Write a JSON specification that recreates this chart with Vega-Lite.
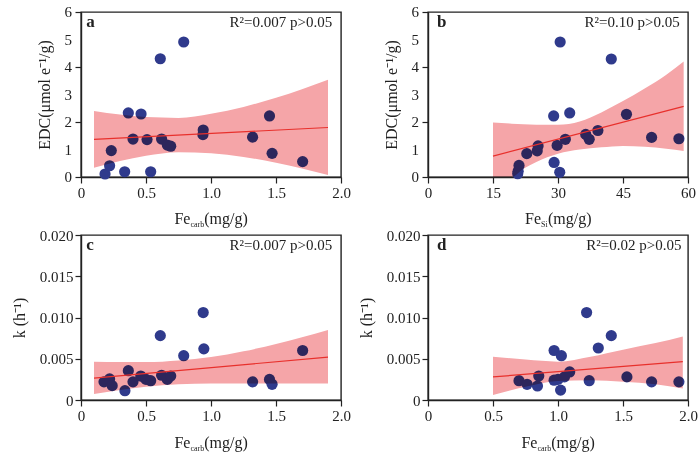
{
  "$schema": "https://vega.github.io/schema/vega-lite/v6.json",
  "background": "white",
  "padding": {"left": 10, "top": 4, "right": 5, "bottom": 2},
  "config": {
    "font": "Liberation Serif",
    "view": {"stroke": "#222222", "strokeWidth": 1.4},
    "axis": {
      "grid": false,
      "domainColor": "#222222", "domainWidth": 1.4,
      "tickColor": "#222222", "tickWidth": 1.2,
      "labelFont": "Liberation Serif", "labelFontSize": 15, "labelColor": "#222222",
      "labelFlush": false, "labelOverlap": false, "labelPadding": 2,
      "titleFont": "Liberation Serif", "titleFontSize": 16, "titleFontWeight": "normal",
      "titleColor": "#222222", "titlePadding": 12
    },
    "text": {"font": "Liberation Serif", "fontSize": 16, "color": "#222222"}
  },
  "datasets": {
    "ticksEDC": [{"v": 0}, {"v": 1}, {"v": 2}, {"v": 3}, {"v": 4}, {"v": 5}, {"v": 6}],
    "ptsA": [
      {"x": 0.185, "y": 0.11}, {"x": 0.22, "y": 0.41}, {"x": 0.233, "y": 0.96},
      {"x": 0.336, "y": 0.19}, {"x": 0.364, "y": 2.33}, {"x": 0.40, "y": 1.38},
      {"x": 0.462, "y": 2.29}, {"x": 0.508, "y": 1.36}, {"x": 0.536, "y": 0.19},
      {"x": 0.61, "y": 4.30}, {"x": 0.62, "y": 1.38}, {"x": 0.664, "y": 1.16},
      {"x": 0.69, "y": 1.12}, {"x": 0.79, "y": 4.91}, {"x": 0.938, "y": 1.54},
      {"x": 0.94, "y": 1.71}, {"x": 1.32, "y": 1.45}, {"x": 1.45, "y": 2.22},
      {"x": 1.47, "y": 0.86}, {"x": 1.705, "y": 0.56}
    ],
    "ptsB": [
      {"x": 20.7, "y": 0.12}, {"x": 20.8, "y": 0.21}, {"x": 21.0, "y": 0.42},
      {"x": 22.8, "y": 0.85}, {"x": 25.2, "y": 0.95}, {"x": 25.4, "y": 1.13},
      {"x": 29.0, "y": 2.22}, {"x": 29.1, "y": 0.53}, {"x": 29.8, "y": 1.15},
      {"x": 30.5, "y": 4.91}, {"x": 30.4, "y": 0.17}, {"x": 31.7, "y": 1.37},
      {"x": 32.7, "y": 2.33}, {"x": 36.4, "y": 1.55}, {"x": 37.2, "y": 1.37},
      {"x": 39.2, "y": 1.69}, {"x": 42.3, "y": 4.29}, {"x": 45.8, "y": 2.28},
      {"x": 51.6, "y": 1.44}, {"x": 57.9, "y": 1.39}
    ],
    "ptsC": [
      {"x": 0.177, "y": 0.0022}, {"x": 0.22, "y": 0.00255}, {"x": 0.24, "y": 0.00174},
      {"x": 0.338, "y": 0.00113}, {"x": 0.364, "y": 0.00355}, {"x": 0.40, "y": 0.0022},
      {"x": 0.46, "y": 0.0029}, {"x": 0.50, "y": 0.0025}, {"x": 0.536, "y": 0.00234},
      {"x": 0.61, "y": 0.0078}, {"x": 0.62, "y": 0.0030}, {"x": 0.664, "y": 0.0025},
      {"x": 0.69, "y": 0.0029}, {"x": 0.79, "y": 0.00537}, {"x": 0.94, "y": 0.0106},
      {"x": 0.945, "y": 0.0062}, {"x": 1.32, "y": 0.0022}, {"x": 1.45, "y": 0.0025},
      {"x": 1.47, "y": 0.0019}, {"x": 1.705, "y": 0.0060}
    ],
    "ptsD": [
      {"x": 0.70, "y": 0.00234}, {"x": 0.762, "y": 0.0019}, {"x": 0.842, "y": 0.0017},
      {"x": 0.852, "y": 0.0029}, {"x": 0.97, "y": 0.0060}, {"x": 1.026, "y": 0.00537},
      {"x": 0.97, "y": 0.0024}, {"x": 1.0, "y": 0.0025}, {"x": 1.02, "y": 0.0012},
      {"x": 1.05, "y": 0.0028}, {"x": 1.09, "y": 0.0034}, {"x": 1.22, "y": 0.0106},
      {"x": 1.24, "y": 0.00234}, {"x": 1.31, "y": 0.0063}, {"x": 1.41, "y": 0.0078},
      {"x": 1.53, "y": 0.0028}, {"x": 1.72, "y": 0.0022}, {"x": 1.93, "y": 0.0022}
    ],
    "bandA": [
      {"x": 0.1, "lo": 0.34, "hi": 2.40}, {"x": 0.3, "lo": 0.58, "hi": 2.27},
      {"x": 0.5, "lo": 0.77, "hi": 2.18}, {"x": 0.75, "lo": 0.90, "hi": 2.15},
      {"x": 1.0, "lo": 0.86, "hi": 2.30}, {"x": 1.25, "lo": 0.73, "hi": 2.55},
      {"x": 1.5, "lo": 0.52, "hi": 2.88}, {"x": 1.9, "lo": 0.07, "hi": 3.54}
    ],
    "bandB": [
      {"x": 15, "lo": 0, "hi": 1.98}, {"x": 19.3, "lo": 0, "hi": 1.94},
      {"x": 22, "lo": 0.30, "hi": 1.92}, {"x": 25, "lo": 0.55, "hi": 1.90},
      {"x": 30, "lo": 0.85, "hi": 1.90}, {"x": 35, "lo": 1.00, "hi": 2.02},
      {"x": 40, "lo": 1.08, "hi": 2.35}, {"x": 45, "lo": 1.13, "hi": 2.76},
      {"x": 50, "lo": 1.10, "hi": 3.22}, {"x": 55, "lo": 1.03, "hi": 3.72},
      {"x": 59, "lo": 0.95, "hi": 4.20}
    ],
    "bandC": [
      {"x": 0.1, "lo": 0.00073, "hi": 0.00465}, {"x": 0.3, "lo": 0.0012, "hi": 0.0046},
      {"x": 0.5, "lo": 0.0016, "hi": 0.0046}, {"x": 0.75, "lo": 0.0019, "hi": 0.0048},
      {"x": 1.0, "lo": 0.0020, "hi": 0.0052}, {"x": 1.25, "lo": 0.0020, "hi": 0.0059},
      {"x": 1.5, "lo": 0.0020, "hi": 0.0068}, {"x": 1.9, "lo": 0.0020, "hi": 0.0085}
    ],
    "bandD": [
      {"x": 0.5, "lo": 0.0006, "hi": 0.00525}, {"x": 0.75, "lo": 0.0016, "hi": 0.0049},
      {"x": 1.0, "lo": 0.0023, "hi": 0.00465}, {"x": 1.25, "lo": 0.0024, "hi": 0.00525},
      {"x": 1.5, "lo": 0.0022, "hi": 0.0061}, {"x": 1.75, "lo": 0.0019, "hi": 0.0069},
      {"x": 1.96, "lo": 0.0014, "hi": 0.0077}
    ],
    "fitA": [{"x": 0.1, "y": 1.37}, {"x": 1.9, "y": 1.80}],
    "fitB": [{"x": 15, "y": 0.76}, {"x": 59, "y": 2.57}],
    "fitC": [{"x": 0.1, "y": 0.00265}, {"x": 1.9, "y": 0.0052}],
    "fitD": [{"x": 0.5, "y": 0.0028}, {"x": 1.96, "y": 0.00465}]
  },
  "concat": [
    {
      "width": 260, "height": 165,
      "layer": [
        {
          "data": {"name": "ptsA"},
          "mark": {"type": "circle", "size": 125, "opacity": 1, "color": "#2f3a8c"},
          "encoding": {
            "x": {"field": "x", "type": "quantitative",
              "scale": {"domain": [0, 2], "nice": false, "zero": false},
              "axis": {"title": null, "labelOverlap": false, "values": [0, 0.25, 0.5, 0.75, 1, 1.25, 1.5, 1.75, 2],
                "labelExpr": "datum.value == 0 ? '0' : (round(datum.value*2) == datum.value*2 ? format(datum.value, '.1f') : '')",
                "tickSize": {"condition": {"test": "round(datum.value*2) == datum.value*2", "value": 6}, "value": 3}}},
            "y": {"field": "y", "type": "quantitative",
              "scale": {"domain": [0, 6], "nice": false},
              "axis": {"title": "EDC(μmol e⁻¹/g)", "labels": false, "titlePadding": 22,
                "values": [0, 0.5, 1, 1.5, 2, 2.5, 3, 3.5, 4, 4.5, 5, 5.5, 6],
                "tickSize": {"condition": {"test": "datum.value % 1 == 0", "value": 6}, "value": 3}}}
          }
        },
        {
          "data": {"name": "bandA"},
          "mark": {"type": "area", "color": "#f5a5a8", "blend": "multiply", "interpolate": "monotone"},
          "encoding": {
            "x": {"field": "x", "type": "quantitative"},
            "y": {"field": "lo", "type": "quantitative"},
            "y2": {"field": "hi"}
          }
        },
        {
          "data": {"name": "fitA"},
          "mark": {"type": "line", "color": "#e8302c", "strokeWidth": 1.2},
          "encoding": {"x": {"field": "x", "type": "quantitative"}, "y": {"field": "y", "type": "quantitative"}}
        },
        {
          "data": {"name": "ticksEDC"},
          "mark": {"type": "text", "align": "right", "baseline": "middle", "dx": -9, "fontSize": 15},
          "encoding": {"x": {"datum": 0}, "y": {"field": "v", "type": "quantitative"}, "text": {"field": "v", "type": "quantitative", "format": "d"}}
        },
        {
          "data": {"values": [{"t": "a"}]},
          "mark": {"type": "text", "align": "left", "baseline": "middle", "fontWeight": "bold", "fontSize": 17},
          "encoding": {"x": {"datum": 0.04}, "y": {"datum": 5.63}, "text": {"field": "t"}}
        },
        {
          "data": {"values": [{"t": "R²=0.007 p>0.05"}]},
          "mark": {"type": "text", "align": "right", "baseline": "middle", "fontSize": 15},
          "encoding": {"x": {"datum": 1.933}, "y": {"datum": 5.63}, "text": {"field": "t"}}
        },
        {
          "data": {"values": [{"t": "Fe"}]},
          "mark": {"type": "text", "align": "right", "baseline": "alphabetic", "dx": -20.6},
          "encoding": {"x": {"datum": 1.0}, "y": {"datum": -1.71}, "text": {"field": "t"}}
        },
        {
          "data": {"values": [{"t": "carb"}]},
          "mark": {"type": "text", "align": "left", "baseline": "alphabetic", "dx": -20.6, "dy": 3, "fontSize": 8},
          "encoding": {"x": {"datum": 1.0}, "y": {"datum": -1.71}, "text": {"field": "t"}}
        },
        {
          "data": {"values": [{"t": "(mg/g)"}]},
          "mark": {"type": "text", "align": "left", "baseline": "alphabetic", "dx": -6.8},
          "encoding": {"x": {"datum": 1.0}, "y": {"datum": -1.71}, "text": {"field": "t"}}
        }
      ]
    },
    {
      "width": 260, "height": 165,
      "layer": [
        {
          "data": {"name": "ptsB"},
          "mark": {"type": "circle", "size": 125, "opacity": 1, "color": "#2f3a8c"},
          "encoding": {
            "x": {"field": "x", "type": "quantitative",
              "scale": {"domain": [0, 60], "nice": false, "zero": false},
              "axis": {"title": null, "labelOverlap": false, "values": [0, 7.5, 15, 22.5, 30, 37.5, 45, 52.5, 60],
                "labelExpr": "datum.value % 15 == 0 ? format(datum.value, 'd') : ''",
                "tickSize": {"condition": {"test": "datum.value % 15 == 0", "value": 6}, "value": 3}}},
            "y": {"field": "y", "type": "quantitative",
              "scale": {"domain": [0, 6], "nice": false},
              "axis": {"title": "EDC(μmol e⁻¹/g)", "labels": false, "titlePadding": 22,
                "values": [0, 0.5, 1, 1.5, 2, 2.5, 3, 3.5, 4, 4.5, 5, 5.5, 6],
                "tickSize": {"condition": {"test": "datum.value % 1 == 0", "value": 6}, "value": 3}}}
          }
        },
        {
          "data": {"name": "bandB"},
          "mark": {"type": "area", "color": "#f5a5a8", "blend": "multiply", "interpolate": "monotone"},
          "encoding": {
            "x": {"field": "x", "type": "quantitative"},
            "y": {"field": "lo", "type": "quantitative"},
            "y2": {"field": "hi"}
          }
        },
        {
          "data": {"name": "fitB"},
          "mark": {"type": "line", "color": "#e8302c", "strokeWidth": 1.2},
          "encoding": {"x": {"field": "x", "type": "quantitative"}, "y": {"field": "y", "type": "quantitative"}}
        },
        {
          "data": {"name": "ticksEDC"},
          "mark": {"type": "text", "align": "right", "baseline": "middle", "dx": -9, "fontSize": 15},
          "encoding": {"x": {"datum": 0}, "y": {"field": "v", "type": "quantitative"}, "text": {"field": "v", "type": "quantitative", "format": "d"}}
        },
        {
          "data": {"values": [{"t": "b"}]},
          "mark": {"type": "text", "align": "left", "baseline": "middle", "fontWeight": "bold", "fontSize": 17},
          "encoding": {"x": {"datum": 2.1}, "y": {"datum": 5.63}, "text": {"field": "t"}}
        },
        {
          "data": {"values": [{"t": "R²=0.10 p>0.05"}]},
          "mark": {"type": "text", "align": "right", "baseline": "middle", "fontSize": 15},
          "encoding": {"x": {"datum": 58.1}, "y": {"datum": 5.63}, "text": {"field": "t"}}
        },
        {
          "data": {"values": [{"t": "Fe"}]},
          "mark": {"type": "text", "align": "right", "baseline": "alphabetic", "dx": -17},
          "encoding": {"x": {"datum": 30}, "y": {"datum": -1.71}, "text": {"field": "t"}}
        },
        {
          "data": {"values": [{"t": "Si"}]},
          "mark": {"type": "text", "align": "left", "baseline": "alphabetic", "dx": -17, "dy": 3, "fontSize": 8},
          "encoding": {"x": {"datum": 30}, "y": {"datum": -1.71}, "text": {"field": "t"}}
        },
        {
          "data": {"values": [{"t": "(mg/g)"}]},
          "mark": {"type": "text", "align": "left", "baseline": "alphabetic", "dx": -10},
          "encoding": {"x": {"datum": 30}, "y": {"datum": -1.71}, "text": {"field": "t"}}
        }
      ]
    },
    {
      "width": 260, "height": 165,
      "layer": [
        {
          "data": {"name": "ptsC"},
          "mark": {"type": "circle", "size": 125, "opacity": 1, "color": "#2f3a8c"},
          "encoding": {
            "x": {"field": "x", "type": "quantitative",
              "scale": {"domain": [0, 2], "nice": false, "zero": false},
              "axis": {"title": null, "labelOverlap": false, "values": [0, 0.25, 0.5, 0.75, 1, 1.25, 1.5, 1.75, 2],
                "labelExpr": "datum.value == 0 ? '0' : (round(datum.value*2) == datum.value*2 ? format(datum.value, '.1f') : '')",
                "tickSize": {"condition": {"test": "round(datum.value*2) == datum.value*2", "value": 6}, "value": 3}}},
            "y": {"field": "y", "type": "quantitative",
              "scale": {"domain": [0, 0.02], "nice": false},
              "axis": {"title": "k (h⁻¹)", "labelOverlap": false, "values": [0, 0.0025, 0.005, 0.0075, 0.01, 0.0125, 0.015, 0.0175, 0.02],
                "labelExpr": "datum.value == 0 ? '0' : (abs(datum.value*200 - round(datum.value*200)) < 1e-6 ? format(datum.value, '.3f') : '')",
                "tickSize": {"condition": {"test": "abs(datum.value*200 - round(datum.value*200)) < 1e-6", "value": 6}, "value": 3}}}
          }
        },
        {
          "data": {"name": "bandC"},
          "mark": {"type": "area", "color": "#f5a5a8", "blend": "multiply", "interpolate": "monotone"},
          "encoding": {
            "x": {"field": "x", "type": "quantitative"},
            "y": {"field": "lo", "type": "quantitative"},
            "y2": {"field": "hi"}
          }
        },
        {
          "data": {"name": "fitC"},
          "mark": {"type": "line", "color": "#e8302c", "strokeWidth": 1.2},
          "encoding": {"x": {"field": "x", "type": "quantitative"}, "y": {"field": "y", "type": "quantitative"}}
        },
        {
          "data": {"values": [{"t": "c"}]},
          "mark": {"type": "text", "align": "left", "baseline": "middle", "fontWeight": "bold", "fontSize": 17},
          "encoding": {"x": {"datum": 0.04}, "y": {"datum": 0.01879}, "text": {"field": "t"}}
        },
        {
          "data": {"values": [{"t": "R²=0.007 p>0.05"}]},
          "mark": {"type": "text", "align": "right", "baseline": "middle", "fontSize": 15},
          "encoding": {"x": {"datum": 1.933}, "y": {"datum": 0.01879}, "text": {"field": "t"}}
        },
        {
          "data": {"values": [{"t": "Fe"}]},
          "mark": {"type": "text", "align": "right", "baseline": "alphabetic", "dx": -20.6},
          "encoding": {"x": {"datum": 1.0}, "y": {"datum": -0.00582}, "text": {"field": "t"}}
        },
        {
          "data": {"values": [{"t": "carb"}]},
          "mark": {"type": "text", "align": "left", "baseline": "alphabetic", "dx": -20.6, "dy": 3, "fontSize": 8},
          "encoding": {"x": {"datum": 1.0}, "y": {"datum": -0.00582}, "text": {"field": "t"}}
        },
        {
          "data": {"values": [{"t": "(mg/g)"}]},
          "mark": {"type": "text", "align": "left", "baseline": "alphabetic", "dx": -6.8},
          "encoding": {"x": {"datum": 1.0}, "y": {"datum": -0.00582}, "text": {"field": "t"}}
        }
      ]
    },
    {
      "width": 260, "height": 165,
      "layer": [
        {
          "data": {"name": "ptsD"},
          "mark": {"type": "circle", "size": 125, "opacity": 1, "color": "#2f3a8c"},
          "encoding": {
            "x": {"field": "x", "type": "quantitative",
              "scale": {"domain": [0, 2], "nice": false, "zero": false},
              "axis": {"title": null, "labelOverlap": false, "values": [0, 0.25, 0.5, 0.75, 1, 1.25, 1.5, 1.75, 2],
                "labelExpr": "datum.value == 0 ? '0' : (round(datum.value*2) == datum.value*2 ? format(datum.value, '.1f') : '')",
                "tickSize": {"condition": {"test": "round(datum.value*2) == datum.value*2", "value": 6}, "value": 3}}},
            "y": {"field": "y", "type": "quantitative",
              "scale": {"domain": [0, 0.02], "nice": false},
              "axis": {"title": "k (h⁻¹)", "labelOverlap": false, "values": [0, 0.0025, 0.005, 0.0075, 0.01, 0.0125, 0.015, 0.0175, 0.02],
                "labelExpr": "datum.value == 0 ? '0' : (abs(datum.value*200 - round(datum.value*200)) < 1e-6 ? format(datum.value, '.3f') : '')",
                "tickSize": {"condition": {"test": "abs(datum.value*200 - round(datum.value*200)) < 1e-6", "value": 6}, "value": 3}}}
          }
        },
        {
          "data": {"name": "bandD"},
          "mark": {"type": "area", "color": "#f5a5a8", "blend": "multiply", "interpolate": "monotone"},
          "encoding": {
            "x": {"field": "x", "type": "quantitative"},
            "y": {"field": "lo", "type": "quantitative"},
            "y2": {"field": "hi"}
          }
        },
        {
          "data": {"name": "fitD"},
          "mark": {"type": "line", "color": "#e8302c", "strokeWidth": 1.2},
          "encoding": {"x": {"field": "x", "type": "quantitative"}, "y": {"field": "y", "type": "quantitative"}}
        },
        {
          "data": {"values": [{"t": "d"}]},
          "mark": {"type": "text", "align": "left", "baseline": "middle", "fontWeight": "bold", "fontSize": 17},
          "encoding": {"x": {"datum": 0.07}, "y": {"datum": 0.01879}, "text": {"field": "t"}}
        },
        {
          "data": {"values": [{"t": "R²=0.02 p>0.05"}]},
          "mark": {"type": "text", "align": "right", "baseline": "middle", "fontSize": 15},
          "encoding": {"x": {"datum": 1.95}, "y": {"datum": 0.01879}, "text": {"field": "t"}}
        },
        {
          "data": {"values": [{"t": "Fe"}]},
          "mark": {"type": "text", "align": "right", "baseline": "alphabetic", "dx": -20.6},
          "encoding": {"x": {"datum": 1.0}, "y": {"datum": -0.00582}, "text": {"field": "t"}}
        },
        {
          "data": {"values": [{"t": "carb"}]},
          "mark": {"type": "text", "align": "left", "baseline": "alphabetic", "dx": -20.6, "dy": 3, "fontSize": 8},
          "encoding": {"x": {"datum": 1.0}, "y": {"datum": -0.00582}, "text": {"field": "t"}}
        },
        {
          "data": {"values": [{"t": "(mg/g)"}]},
          "mark": {"type": "text", "align": "left", "baseline": "alphabetic", "dx": -6.8},
          "encoding": {"x": {"datum": 1.0}, "y": {"datum": -0.00582}, "text": {"field": "t"}}
        }
      ]
    }
  ],
  "columns": 2,
  "spacing": {"column": 5, "row": -3}
}
